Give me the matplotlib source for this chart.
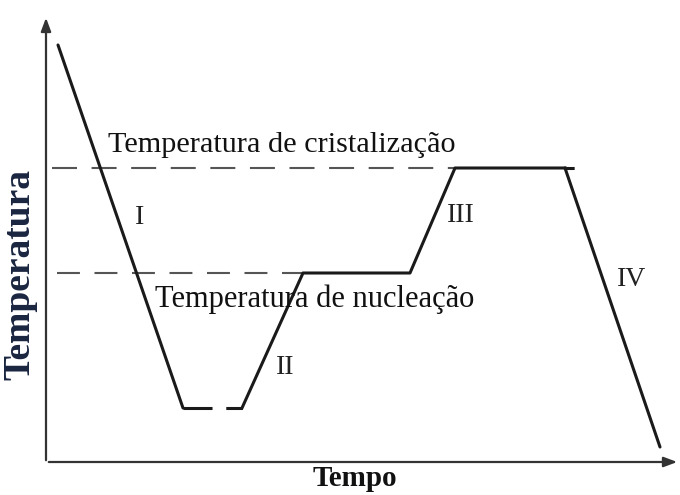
import matplotlib
matplotlib.use("Agg")
import matplotlib.pyplot as plt

# Curve (time, temperature) (axes units ~ pixels)
t_cool = [58, 183]
T_cool = [450, 87]
t_under = [183, 242]
T_under = [87, 87]
t_rest = [242, 303, 410, 455, 565]
T_rest = [87, 222, 222, 327, 327]
t_tail = [565, 578]
T_tail = [327, 327]
t_final = [565, 660]
T_final = [327, 48]

T_cryst = 327
T_nucl = 222

labels = ["I", "II", "III", "IV"]
label_t = [140, 285, 461, 632]
label_T = [277, 128, 280, 215]

fig = plt.figure(figsize=(6.8, 4.95), dpi=100)
ax = fig.add_axes([0, 0, 1, 1])
ax.set_xlim(0, 680)
ax.set_ylim(0, 495)
ax.axis("off")

serif = "Liberation Serif"
lc = "#1a1a1a"

# axes with arrows
ax.annotate("", xy=(46, 480), xytext=(46, 32),
            arrowprops=dict(arrowstyle="-|>,head_length=0.8,head_width=0.3", color="#333333", lw=1.6))
ax.annotate("", xy=(680, 33), xytext=(46, 33),
            arrowprops=dict(arrowstyle="-|>,head_length=0.8,head_width=0.3", color="#333333", lw=1.6))

# reference dashed lines
ax.plot([52, 455], [T_cryst, T_cryst], ls=(0, (12, 7)), color="#555555", lw=1.5)
ax.plot([57, 303], [T_nucl, T_nucl], ls=(0, (11, 7)), color="#555555", lw=1.5)

# curve
ax.plot(t_cool, T_cool, color=lc, lw=2.2, solid_capstyle="round")
ax.plot(t_under, T_under, color=lc, lw=2.2, ls=(0, (9.5, 4.5)))
ax.plot(t_rest, T_rest, color=lc, lw=2.2, solid_joinstyle="round")
ax.plot(t_tail, T_tail, color=lc, lw=2.2, ls=(0, (3, 3)))
ax.plot(t_final, T_final, color=lc, lw=2.2, solid_capstyle="round")

for lab, x, y in zip(labels, label_t, label_T):
    ax.text(x, y, lab, fontsize=20, family=serif, ha="center", va="center", color="#222222")

ax.text(108, 350, "Temperatura de cristalização", fontsize=21.8, family=serif,
        ha="left", va="center", color="#111111")
ax.text(155, 196, "Temperatura de nucleação", fontsize=22, family=serif,
        ha="left", va="center", color="#111111")

ax.text(355, 16, "Tempo", fontsize=21, family=serif, weight="bold",
        ha="center", va="center", color="#111111")
ax.text(20, 220, "Temperatura", fontsize=27, family=serif, weight="bold",
        rotation=90, ha="center", va="center", color="#1a2540")

fig.savefig("out.png", dpi=100)
